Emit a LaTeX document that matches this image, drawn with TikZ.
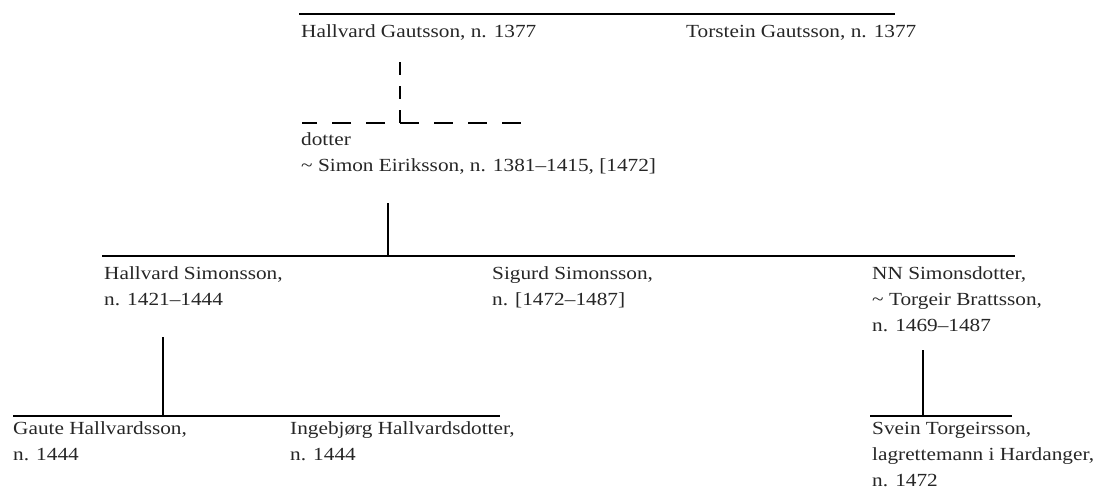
\documentclass[tikz,border=0pt]{standalone}
\usepackage{fontspec}
\setmainfont[FakeStretch=1.15]{Liberation Serif}
\begin{document}
\begin{tikzpicture}[x=1pt,y=-1pt,
  person/.style={anchor=base west,inner sep=0pt,align=left,text=black!85,
    font=\fontsize{18.5}{26}\selectfont},
  rel/.style={line width=1.8pt,line cap=butt},
  relv/.style={rel,dash pattern=on 13pt off 11pt},
  relh/.style={rel,dash pattern=on 19pt off 15pt}]
\useasboundingbox (0,0) rectangle (1094,491);
% (multi-line nodes: base anchor sits on the last line)
% generation 1
\node[person] (hg) at (301,37) {Hallvard Gautsson, n. 1377};
\node[person] (tg) at (686,37) {Torstein Gautsson, n. 1377};
\coordinate (g1L) at (299,14);
\coordinate (g1R) at (895,14);
\draw[rel] (g1L) -- (g1R);
% uncertain link
\coordinate (dtop) at (400,62);
\coordinate (dcorner) at (400,123);
\coordinate (dL) at (302,123);
\coordinate (dR) at (522,123);
\draw[relv] (dtop) -- (dcorner);
\draw[relh] (dcorner) -- (dR);
\draw[relh,dash phase=19pt] (dcorner) -- (dL);
% generation 2
\node[person] (d) at (301,171) {dotter\\\textasciitilde{} Simon Eiriksson, n. 1381–1415, [1472]};
\coordinate (j2top) at (388,203);
\coordinate (j2) at (388,256);
\coordinate (g3L) at (102,256);
\coordinate (g3R) at (1015,256);
\draw[rel] (j2top) -- (j2);
\draw[rel] (g3L) -- (g3R);
% generation 3
\node[person] (hs) at (104,305) {Hallvard Simonsson,\\n. 1421–1444};
\node[person] (ss) at (492,305) {Sigurd Simonsson,\\n. [1472–1487]};
\node[person] (nn) at (872,331) {NN Simonsdotter,\\\textasciitilde{} Torgeir Brattsson,\\n. 1469–1487};
% children of Hallvard
\coordinate (j4top) at (163,337);
\coordinate (j4) at (163,416);
\coordinate (g4L) at (13,416);
\coordinate (g4R) at (500,416);
\draw[rel] (j4top) -- (j4);
\draw[rel] (g4L) -- (g4R);
\node[person] (gh) at (13,460) {Gaute Hallvardsson,\\n. 1444};
\node[person] (ih) at (290,460) {Ingebjørg Hallvardsdotter,\\n. 1444};
% child of NN
\coordinate (j5top) at (923,350);
\coordinate (j5) at (923,416);
\coordinate (g5L) at (870,416);
\coordinate (g5R) at (1012,416);
\draw[rel] (j5top) -- (j5);
\draw[rel] (g5L) -- (g5R);
\node[person] (st) at (872,486) {Svein Torgeirsson,\\lagrettemann i Hardanger,\\n. 1472};
\end{tikzpicture}
\end{document}
